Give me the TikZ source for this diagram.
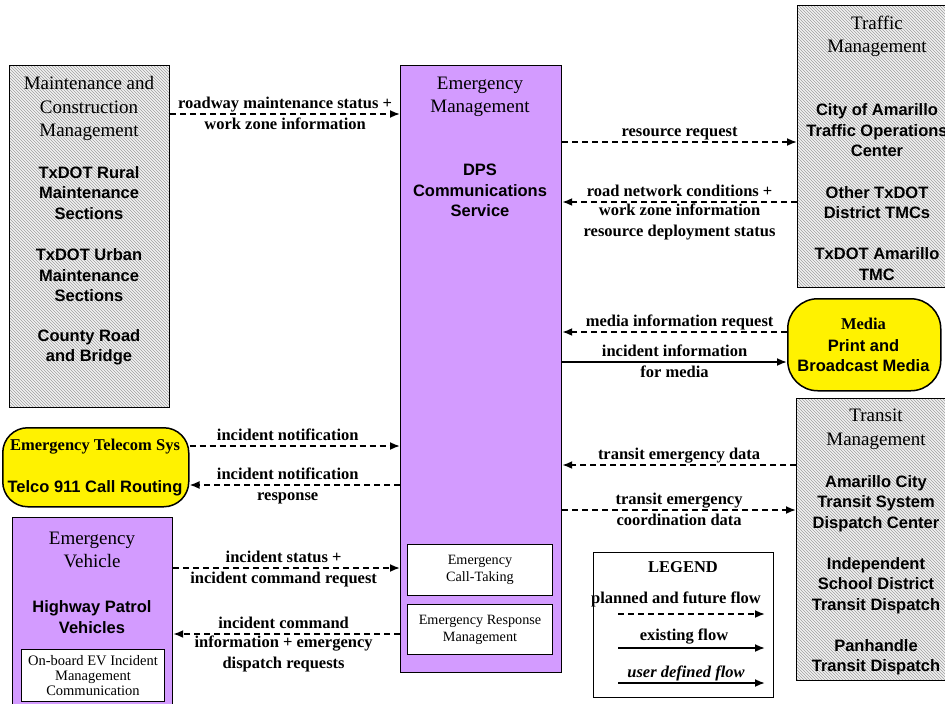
\documentclass[tikz,border=0pt]{standalone}
\usepackage{fontspec}
\setmainfont{Liberation Serif}
\setsansfont{Liberation Sans}
\usepackage{tikz}
\usetikzlibrary{arrows.meta,shapes,positioning,patterns}
\usepackage{xcolor}
\definecolor{empurple}{RGB}{211,155,255}
\definecolor{hatchgray}{RGB}{160,160,160}
\newcommand{\sysfont}{\fontsize{19}{23.5}\selectfont}
\newcommand{\elemfont}{\sffamily\bfseries\fontsize{16.5}{20.5}\selectfont}
\newcommand{\flowfont}{\bfseries\fontsize{16.5}{20.5}\selectfont}
\newcommand{\subfont}{\fontsize{14.2}{17}\selectfont}
\newcommand{\evsubfont}{\fontsize{14.5}{15}\selectfont}
\tikzstyle{planned} = [line width=1.8pt, dash pattern=on 6pt off 4pt, -{Latex[length=10pt,width=8pt]}]
\tikzstyle{existing} = [line width=1.8pt, -{Latex[length=10pt,width=8pt]}]
\tikzstyle{hatchbox} = [rectangle, draw, line width=1.2pt, preaction={fill=gray!10}, pattern=north west lines, pattern color=hatchgray, anchor=north west]
\tikzstyle{purplebox} = [rectangle, draw, line width=1.2pt, fill=empurple, anchor=north west]
\tikzstyle{yellowbox} = [rectangle, draw, line width=1.5pt, fill=yellow, anchor=north west]
\tikzstyle{subbox} = [rectangle, draw, line width=1pt, fill=white, anchor=north west, align=center]
\tikzstyle{systitle} = [font=\sysfont, align=center]
\tikzstyle{element} = [font=\elemfont, align=center]
\tikzstyle{flowlabel} = [font=\flowfont, align=center, inner sep=1pt]
\tikzstyle{strutlabel} = [flowlabel, execute at begin node={\rule{0pt}{13.5pt}}, execute at end node={\rule[-4pt]{0pt}{4pt}}]

\begin{document}
\begin{tikzpicture}[x=1pt, y=-1pt]
\useasboundingbox (0,0) rectangle (945,704);

% Maintenance and Construction Management
\node[hatchbox, minimum width=160pt, minimum height=342pt] (mcm) at (9,65) {};
\node[systitle] (mcmtitle) at (89,108.5) {Maintenance and\\Construction\\Management};
\node[element] (rural) at (89,193) {TxDOT Rural\\Maintenance\\Sections};
\node[element] (urban) at (89,275.5) {TxDOT Urban\\Maintenance\\Sections};
\node[element] (county) at (89,347.5) {County Road\\and Bridge};

% Emergency Management (center)
\node[purplebox, minimum width=161pt, minimum height=607pt] (em) at (400,65) {};
\node[systitle] (emtitle) at (480,97) {Emergency\\Management};
\node[element] (dps) at (480,190.5) {DPS\\Communications\\Service};
\node[subbox, font=\subfont, minimum width=145pt, minimum height=51pt] (calltaking) at (407,544) {Emergency\\Call-Taking};
\node[subbox, font=\subfont, minimum width=145pt, minimum height=50pt] (response) at (407,604) {Emergency Response\\Management};

% Traffic Management
\node[hatchbox, minimum width=160pt, minimum height=282pt] (tmc) at (797,5) {};
\node[systitle] (tmctitle) at (877,36.5) {Traffic\\Management};
\node[element] (amatoc) at (877,130.5) {City of Amarillo\\Traffic Operations\\Center};
\node[element] (othertmc) at (877,202.5) {Other TxDOT\\District TMCs};
\node[element] (amatmc) at (877,264) {TxDOT Amarillo\\TMC};

% Media
\node[yellowbox, rounded corners=30pt, minimum width=153pt, minimum height=92pt] (media) at (787,298) {};
\node[flowlabel] (mediatitle) at (863.5,324) {Media};
\node[element] (printmedia) at (863.5,355.5) {Print and\\Broadcast Media};

% Transit Management
\node[hatchbox, minimum width=160pt, minimum height=282pt] (tsm) at (796,398) {};
\node[systitle] (tsmtitle) at (876,429.5) {Transit\\Management};
\node[element] (act) at (876,503.5) {Amarillo City\\Transit System\\Dispatch Center};
\node[element] (isd) at (876,585.5) {Independent\\School District\\Transit Dispatch};
\node[element] (panhandle) at (876,657) {Panhandle\\Transit Dispatch};

% Emergency Telecom
\node[yellowbox, rounded corners=25pt, minimum width=186pt, minimum height=79pt] (telecom) at (2,427) {};
\node[flowlabel] (telecomtitle) at (95,447) {Emergency Telecom Sys};
\node[element] (telco) at (95,488) {Telco 911 Call Routing};

% Emergency Vehicle
\node[purplebox, minimum width=160pt, minimum height=210pt] (ev) at (12,517) {};
\node[systitle] (evtitle) at (92,550) {Emergency\\Vehicle};
\node[element] (hpv) at (92,617) {Highway Patrol\\Vehicles};
\node[subbox, font=\evsubfont, minimum width=143pt, minimum height=52pt] (onboard) at (21,649) {On-board EV Incident\\Management\\Communication};

% Flows
\draw[planned] (mcm.east |- 0,114) -- (em.west |- 0,114)
  node[midway, above, strutlabel] {roadway maintenance status +}
  node[midway, below, strutlabel] {work zone information};
\draw[planned] (em.east |- 0,142) -- (tmc.west |- 0,142)
  node[midway, above, strutlabel] {resource request};
\draw[planned] (tmc.west |- 0,202) -- (em.east |- 0,202)
  node[midway, above, strutlabel] {road network conditions +}
  node[midway, below, strutlabel] {work zone information\\resource deployment status};
\draw[planned] (media.west |- 0,332) -- (em.east |- 0,332)
  node[midway, above, strutlabel, xshift=5pt] {media information request};
\draw[existing] (em.east |- 0,362) -- (media.west |- 0,362)
  node[midway, above, strutlabel] {incident information}
  node[midway, below, strutlabel] {for media};
\draw[planned] (telecom.east |- 0,446) -- (em.west |- 0,446)
  node[midway, above, strutlabel, xshift=-7pt] {incident notification};
\draw[planned] (em.west |- 0,485) -- (telecom.east |- 0,485)
  node[midway, above, strutlabel, xshift=-7pt] {incident notification}
  node[midway, below, strutlabel, xshift=-7pt] {response};
\draw[planned] (tsm.west |- 0,465) -- (em.east |- 0,465)
  node[midway, above, strutlabel] {transit emergency data};
\draw[planned] (em.east |- 0,510) -- (tsm.west |- 0,510)
  node[midway, above, strutlabel] {transit emergency}
  node[midway, below, strutlabel] {coordination data};
\draw[planned] (ev.east |- 0,568) -- (em.west |- 0,568)
  node[midway, above, strutlabel, xshift=-3pt] {incident status +}
  node[midway, below, strutlabel, xshift=-3pt] {incident command request};
\draw[planned] (em.west |- 0,634) -- (ev.east |- 0,634)
  node[midway, above, strutlabel, xshift=-3pt] {incident command}
  node[midway, below, strutlabel, xshift=-3pt] {information + emergency\\dispatch requests};

% Legend
\node[rectangle, draw, line width=1.2pt, anchor=north west, minimum width=180pt, minimum height=145pt] (legend) at (593,552) {};
\node[flowlabel] (legendtitle) at (683,567) {LEGEND};
\node[flowlabel] (plannedtxt) at (676,599) {planned and future flow};
\node[flowlabel] (existingtxt) at (684,637) {existing flow};
\node[flowlabel, font=\flowfont\itshape] (usertxt) at (686,673) {user defined flow};
\coordinate (pfa) at (618,614);
\coordinate (pfb) at (765,614);
\coordinate (exa) at (618,648);
\coordinate (exb) at (765,648);
\coordinate (uda) at (618,683);
\coordinate (udb) at (765,683);
\draw[planned] (pfa) -- (pfb);
\draw[existing] (exa) -- (exb);
\draw[existing] (uda) -- (udb);
\end{tikzpicture}
\end{document}
